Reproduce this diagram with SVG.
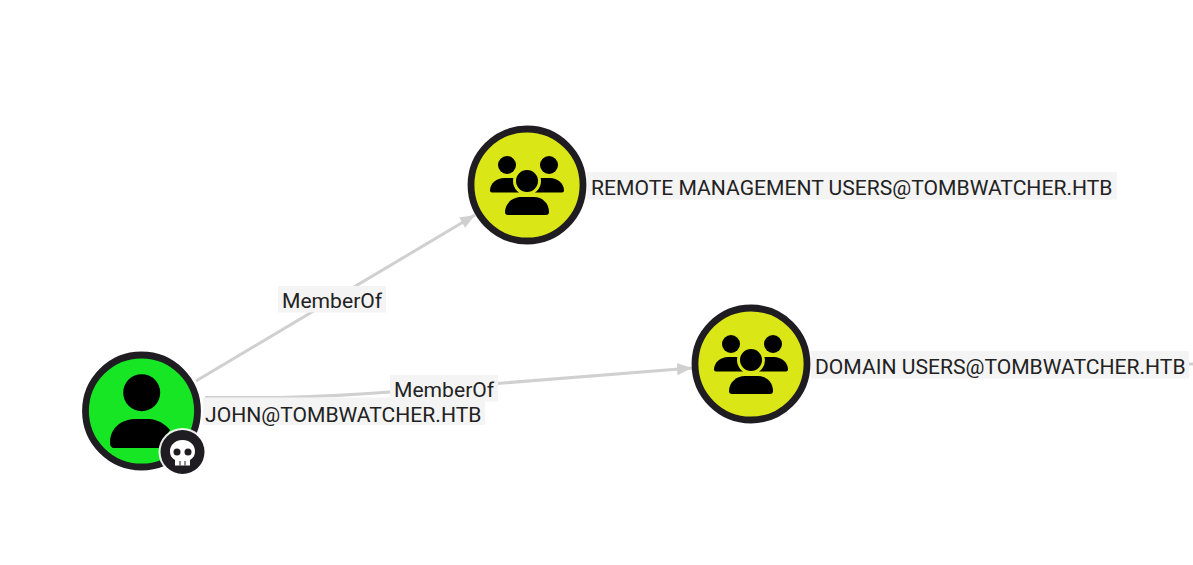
<svg xmlns="http://www.w3.org/2000/svg" width="1193" height="565" viewBox="0 0 1193 565">
<style>
.ring{stroke:#1f1d22;stroke-width:6.800}
.user{fill:#17e625}
.group{fill:#dbe617}
.glyph{fill:#000}
.edge{fill:none;stroke:#d0d0d0;stroke-width:3}
.lab{fill:#f4f4f4}
text{font-family:Roboto,"Liberation Sans",sans-serif;font-size:21.100px;fill:#222}
</style>
<defs>
<marker id="arrow" markerUnits="userSpaceOnUse" markerWidth="16" markerHeight="14" refX="15" refY="6" orient="auto"><path d="M0 0L15 6L0 12Z" fill="#d0d0d0"/></marker>
<g id="people">
<circle class="glyph" cx="-20" cy="-20" r="9"/>
<circle class="glyph" cx="22" cy="-20" r="9"/>
<path class="glyph" d="M-37 5.500C-37-2-30-7-23-7H-8V7.500H-35Q-37 7.500-37 5.500Z"/>
<path class="glyph" d="M37 5.500C37-2 30-7 23-7H8V7.500H35Q37 7.500 37 5.500Z"/>
<circle class="glyph" cx="0" cy="-4" r="12.500" stroke="#dbe617" stroke-width="3"/>
<path class="glyph" d="M-22 27C-22 18-14 12-6 12H7C15 12 22 18 22 27Q22 30 19 30H-19Q-22 30-22 27Z"/>
</g>
</defs>
<g id="connectors">
<path class="edge" d="M196 381L475 215" marker-end="url(#arrow)"/>
<path class="edge" d="M205 397.500L280 397.500Q340 396 390 392L692 368" marker-end="url(#arrow)"/>
<path class="edge" d="M1189 364L1193 364"/>
</g>
<g id="node-john">
<rect class="lab" x="203" y="397.500" width="282" height="27.500"/>
<circle class="user ring" cx="141.500" cy="411" r="56"/>
<circle class="glyph" cx="141.700" cy="392.700" r="18.500"/>
<path class="glyph" d="M110 442C110 428 122 419 135 419H149C157 419 165 424 170 430L160 448H114Q110 448 110 442Z"/>
<text x="205" y="421.500">JOHN@TOMBWATCHER.HTB</text>
<circle cx="182.500" cy="452" r="24" fill="#fff" opacity=".9"/>
<circle cx="182.500" cy="452" r="22" fill="#1f1d22"/>
<path fill="#fff" d="M182.500 440C174 440 170 446 170 451C170 456 172 458 175 460V465.500H190V460C193 458 195 456 195 451C195 446 191 440 182.500 440Z"/>
<circle cx="177" cy="452" r="3.500" fill="#1f1d22"/>
<circle cx="188" cy="452" r="3.500" fill="#1f1d22"/>
<path d="M180 461V465.500M185 461V465.500" stroke="#1f1d22" stroke-width="1"/>
</g>
<g id="node-remote">
<rect class="lab" x="587" y="172" width="530" height="27.500"/>
<circle class="group ring" cx="527" cy="185" r="56"/>
<use href="#people" x="527" y="185"/>
<text x="591" y="195">REMOTE MANAGEMENT USERS@TOMBWATCHER.HTB</text>
</g>
<g id="node-domain">
<rect class="lab" x="811" y="351" width="378" height="27.500"/>
<circle class="group ring" cx="751" cy="364" r="56"/>
<use href="#people" x="751" y="364"/>
<text x="815" y="374">DOMAIN USERS@TOMBWATCHER.HTB</text>
</g>
<g id="edge-labels">
<rect class="lab" x="278" y="286" width="108" height="26.500"/>
<text x="282" y="308">MemberOf</text>
<rect class="lab" x="390" y="375" width="108" height="26.500"/>
<text x="394" y="397">MemberOf</text>
</g>
</svg>
